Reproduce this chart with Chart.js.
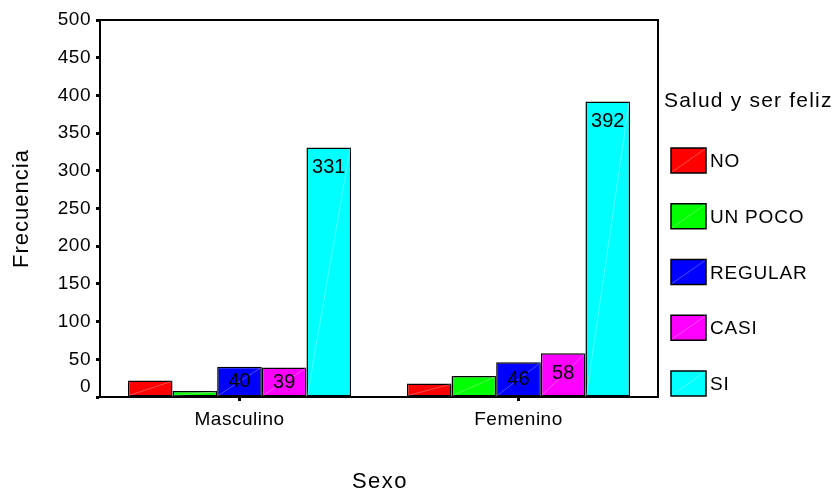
<!DOCTYPE html>
<html>
<head>
<meta charset="utf-8">
<script src="https://cdn.jsdelivr.net/npm/chart.js@4/dist/chart.umd.min.js"></script>
<style>
  html, body { margin: 0; padding: 0; background: #fff; }
  #wrap { width: 838px; height: 491px; }
</style>
</head>
<body>
<div id="wrap"><canvas id="c" width="838" height="491"></canvas></div>
<script>
// Frecuencia por sexo y respuesta a "Salud y ser feliz"
const categories = ['Masculino', 'Femenino'];
const seriesNames = ['NO', 'UN POCO', 'REGULAR', 'CASI', 'SI'];
const NO      = [22, 18];
const UN_POCO = [8, 28];
const REGULAR = [40, 46];
const CASI    = [39, 58];
const SI      = [331, 392];
const seriesColors = ['#ff0000', '#00ff00', '#0000ff', '#ff00ff', '#00ffff'];
const labeledSeries = ['REGULAR', 'CASI', 'SI'];
const yTicks = [0, 50, 100, 150, 200, 250, 300, 350, 400, 450, 500];
const legendTitle = 'Salud y ser feliz';
const xTitle = 'Sexo';
const yTitle = 'Frecuencia';

const seriesValues = [NO, UN_POCO, REGULAR, CASI, SI];
const FONT = '"Liberation Sans", Arial, Helvetica, sans-serif';
const TICK_SPACING = '0.5px';

const decor = {
  id: 'decor',
  beforeUpdate(chart) { chart.ctx.letterSpacing = TICK_SPACING; },
  beforeDraw(chart) { chart.ctx.letterSpacing = TICK_SPACING; },
  afterDatasetsDraw(chart) {
    const ctx = chart.ctx;
    const a = chart.chartArea;
    ctx.save();
    // faint diagonal sheen across each bar
    ctx.strokeStyle = 'rgba(255,255,255,0.3)';
    ctx.lineWidth = 1;
    chart.data.datasets.forEach((ds, i) => {
      chart.getDatasetMeta(i).data.forEach(bar => {
        const p = bar.getProps(['x', 'y', 'base', 'width'], true);
        ctx.beginPath();
        ctx.moveTo(p.x - p.width / 2 + 1, p.base - 1);
        ctx.lineTo(p.x + p.width / 2 - 1, p.y + 1);
        ctx.stroke();
      });
    });
    // value labels inside the top of the bars
    ctx.letterSpacing = '0px';
    ctx.font = '20px ' + FONT;
    ctx.fillStyle = '#000';
    ctx.textAlign = 'center';
    ctx.textBaseline = 'middle';
    chart.data.datasets.forEach((ds, i) => {
      if (!labeledSeries.includes(ds.label)) return;
      chart.getDatasetMeta(i).data.forEach((bar, j) => {
        const p = bar.getProps(['x', 'y', 'base'], true);
        const h = p.base - p.y;
        ctx.fillText(String(ds.data[j]), p.x, p.y + Math.min(20, h / 2));
      });
    });
    // frame: top and right edges of the plot box
    ctx.strokeStyle = '#000';
    ctx.lineWidth = 2;
    ctx.beginPath();
    ctx.moveTo(a.left, a.top);
    ctx.lineTo(a.right, a.top);
    ctx.lineTo(a.right, a.bottom);
    ctx.stroke();
    ctx.restore();
  },
  afterDraw(chart) {
    const ctx = chart.ctx;
    const a = chart.chartArea;
    ctx.save();
    ctx.fillStyle = '#000';

    // zero label sits a little above its tick
    ctx.letterSpacing = TICK_SPACING;
    ctx.font = '19px ' + FONT;
    ctx.textAlign = 'right';
    ctx.textBaseline = 'middle';
    ctx.fillText('0', 91, chart.scales.y.getPixelForValue(0) - 10);

    // axis titles
    ctx.font = '22px ' + FONT;
    ctx.textAlign = 'center';
    ctx.letterSpacing = '1.5px';
    ctx.fillText(xTitle, (a.left + a.right) / 2 + 1, 482);
    ctx.save();
    ctx.letterSpacing = '1px';
    ctx.translate(22, (a.top + a.bottom) / 2);
    ctx.rotate(-Math.PI / 2);
    ctx.fillText(yTitle, 0, 0);
    ctx.restore();

    // legend
    ctx.textAlign = 'left';
    ctx.letterSpacing = '1.2px';
    ctx.font = '21px ' + FONT;
    ctx.fillText(legendTitle, 664, 101);
    ctx.letterSpacing = '0.8px';
    ctx.font = '19px ' + FONT;
    chart.data.datasets.forEach((ds, i) => {
      const top = 148 + i * 55.75;
      ctx.fillStyle = ds.backgroundColor;
      ctx.fillRect(671, top, 35, 25);
      ctx.strokeStyle = 'rgba(255,255,255,0.3)';
      ctx.lineWidth = 1;
      ctx.beginPath();
      ctx.moveTo(672, top + 24);
      ctx.lineTo(705, top + 1);
      ctx.stroke();
      ctx.strokeStyle = '#000';
      ctx.lineWidth = 1.5;
      ctx.strokeRect(671, top, 35, 25);
      ctx.fillStyle = '#000';
      ctx.fillText(ds.label, 710, top + 14);
    });
    ctx.restore();
  }
};

const datasets = seriesNames.map((name, i) => ({
  label: name,
  data: seriesValues[i],
  backgroundColor: seriesColors[i],
  borderColor: '#000',
  borderWidth: 1.5,
  borderSkipped: false
}));

new Chart(document.getElementById('c'), {
  type: 'bar',
  data: { labels: categories, datasets },
  options: {
    responsive: false,
    animation: false,
    devicePixelRatio: 1,
    layout: { padding: { top: 20, right: 180, left: 0, bottom: 0 } },
    datasets: { bar: { categoryPercentage: 0.8, barPercentage: 1 } },
    plugins: { legend: { display: false }, tooltip: { enabled: false } },
    scales: {
      x: {
        grid: { display: true, drawOnChartArea: false, offset: false, tickLength: 4, tickWidth: 3, tickColor: '#000' },
        border: { display: true, color: '#000', width: 2 },
        ticks: { color: '#000', font: { family: FONT, size: 19 }, padding: 7, maxRotation: 0 },
        afterFit(s) { s.height = 94; }
      },
      y: {
        min: 0,
        max: 500,
        afterBuildTicks(s) { s.ticks = yTicks.map(v => ({ value: v })); },
        grid: { display: true, drawOnChartArea: false, tickLength: 4, tickWidth: 3, tickColor: '#000' },
        border: { display: true, color: '#000', width: 2 },
        ticks: {
          color: '#000',
          font: { family: FONT, size: 19 },
          padding: 5,
          callback: v => (v === 0 ? '' : String(v))
        },
        afterFit(s) { s.width = 100; }
      }
    }
  },
  plugins: [decor]
});
</script>
</body>
</html>
